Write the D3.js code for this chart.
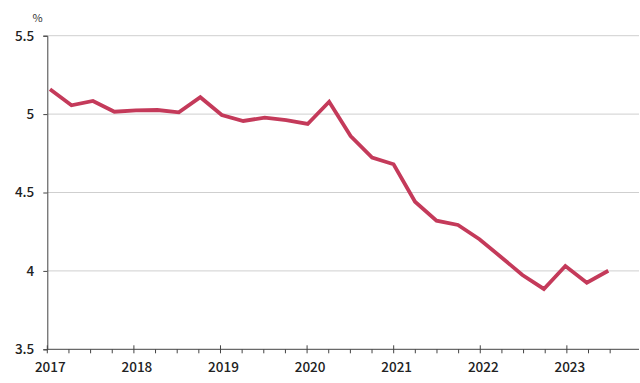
<!DOCTYPE html>
<html><head><meta charset="utf-8">
<script src="https://cdn.jsdelivr.net/npm/d3@7"></script>
<style>body{margin:0;background:#fff}svg{display:block}</style>
</head><body>
<svg id="c" width="640" height="383"></svg>
<script>
const years = [2017,2018,2019,2020,2021,2022,2023];
const yTicks = [3.5,4,4.5,5,5.5];
const quarters = ["2017Q1","2017Q2","2017Q3","2017Q4","2018Q1","2018Q2","2018Q3","2018Q4","2019Q1","2019Q2","2019Q3","2019Q4","2020Q1","2020Q2","2020Q3","2020Q4","2021Q1","2021Q2","2021Q3","2021Q4","2022Q1","2022Q2","2022Q3","2022Q4","2023Q1","2023Q2","2023Q3"];
const values = [5.158,5.056,5.084,5.015,5.024,5.026,5.011,5.108,4.994,4.956,4.977,4.962,4.937,5.079,4.860,4.722,4.680,4.441,4.320,4.293,4.202,4.089,3.974,3.885,4.031,3.925,4.001];

const svg = d3.select("#c");
const L=47.3, R=639, T=35.7, B=349.3;
const x = d3.scaleLinear().domain([2017, 2023.833]).range([L, R]);
const xd = d3.scaleLinear().domain([2017, 2023.5]).range([50, 608.3]);
const y = d3.scaleLinear().domain([3.5,5.5]).range([B, T]);
const font = "'Noto Sans CJK JP','Noto Sans',sans-serif";
const qpos = q => +q.slice(0,4) + (+q.slice(5)-1)/4;

// gridlines
svg.append("g").selectAll("line").data(yTicks.filter(d=>d>3.5)).join("line")
  .attr("x1",L).attr("x2",R).attr("y1",d=>y(d)).attr("y2",d=>y(d))
  .attr("stroke","#cfcfcf").attr("stroke-width",1);

// y axis
const ya = svg.append("g").attr("transform",`translate(${L},0)`)
  .call(d3.axisLeft(y).tickValues(yTicks).tickFormat(d3.format("")).tickSize(4).tickPadding(9));
ya.select(".domain").attr("stroke","#444");
ya.selectAll(".tick line").attr("stroke","#444");
ya.selectAll("text").attr("font-family",font).attr("font-size",13.5).attr("fill","#222").attr("font-weight",500);

// x axis
const minor = d3.range(0,27).map(i=>2017+i/4).filter(d=>d%1!==0);
const xg = svg.append("g").attr("transform",`translate(0,${B})`);
xg.append("line").attr("x1",L).attr("x2",R).attr("stroke","#444");
xg.selectAll("line.mn").data(minor).join("line").attr("class","mn")
  .attr("x1",d=>x(d)).attr("x2",d=>x(d)).attr("y1",0).attr("y2",4).attr("stroke","#444");
xg.selectAll("line.mj").data(years).join("line").attr("class","mj")
  .attr("x1",d=>x(d)).attr("x2",d=>x(d)).attr("y1",-4).attr("y2",4).attr("stroke","#444");
xg.selectAll("text").data(years).join("text")
  .attr("x",d=>x(d)+3).attr("y",22.5).attr("text-anchor","middle")
  .attr("font-family",font).attr("font-size",13.5).attr("font-weight",500).attr("fill","#222").text(d=>d);

svg.append("text").attr("x",37.5).attr("y",22).attr("text-anchor","middle")
  .attr("font-family",font).attr("font-size",11).attr("fill","#333").text("%");

// line
const line = d3.line().x((d,i)=>xd(qpos(quarters[i]))).y(d=>y(d));
svg.append("path").datum(values).attr("d",line).attr("fill","none")
  .attr("stroke","#c43a5a").attr("stroke-width",3.8).attr("stroke-linejoin","miter").attr("stroke-linecap","butt");
</script>
</body></html>
